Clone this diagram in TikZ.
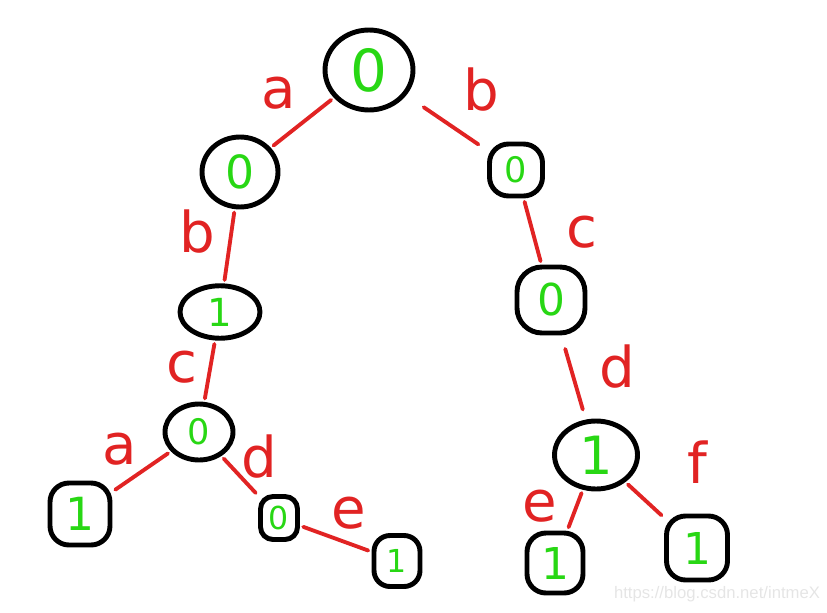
\documentclass[tikz,border=0pt]{standalone}
\usepackage{fontspec}
\setmainfont{DejaVu Sans}
\newfontfamily\wmfont{Liberation Sans}
\usetikzlibrary{shapes.geometric}
\definecolor{trired}{RGB}{225,35,35}
\definecolor{trigreen}{RGB}{40,215,20}
\tikzset{
  oval/.style={ellipse, draw=black, line width=2.8pt, inner sep=0pt, text=trigreen},
  boxy/.style={rectangle, rounded corners=0.38cm, draw=black, line width=2.8pt, inner sep=0pt, text=trigreen},
  edge/.style={draw=trired, line width=2.2pt, line cap=round, shorten <=2pt, shorten >=2pt},
  lbl/.style={text=trired, font=\fontsize{32}{32}\selectfont, inner sep=0pt},
}
\newcommand{\fs}[1]{\fontsize{#1}{#1}\selectfont}
\begin{document}
\begin{tikzpicture}[x=0.02cm,y=-0.02cm]
\useasboundingbox (0,0) rectangle (827,612);
% nodes
\node[oval, minimum width=1.76cm, minimum height=1.6cm, font=\fs{33}] (r) at (369,70) {0};
\node[oval, minimum width=1.52cm, minimum height=1.4cm, font=\fs{26}] (l1) at (240,172) {0};
\node[boxy, minimum width=1.06cm, minimum height=1.04cm, font=\fs{20}] (r1) at (516,170) {0};
\node[oval, minimum width=1.6cm, minimum height=1.05cm, font=\fs{22}] (l2) at (220,312) {1};
\node[boxy, minimum width=1.36cm, minimum height=1.32cm, rounded corners=0.5cm, font=\fs{25}] (r2) at (551,300) {0};
\node[oval, minimum width=1.36cm, minimum height=1.12cm, font=\fs{20}] (l3) at (199,432) {0};
\node[oval, minimum width=1.66cm, minimum height=1.36cm, font=\fs{30}] (r3) at (596,455) {1};
\node[boxy, minimum width=1.2cm, minimum height=1.24cm, font=\fs{26}] (l4a) at (80,514) {1};
\node[boxy, minimum width=0.74cm, minimum height=0.86cm, rounded corners=0.25cm, font=\fs{18}] (l4b) at (279,518) {0};
\node[boxy, minimum width=0.92cm, minimum height=1.02cm, rounded corners=0.32cm, font=\fs{18}] (l5) at (397,561) {1};
\node[boxy, minimum width=1.12cm, minimum height=1.2cm, font=\fs{25}] (r4a) at (555,563) {1};
\node[boxy, minimum width=1.22cm, minimum height=1.28cm, font=\fs{25}] (r4b) at (697,548) {1};
% edges
\draw[edge] (r) -- (l1);
\draw[edge, shorten <=12pt, shorten >=6pt] (r) -- (r1);
\draw[edge] (l1) -- (l2);
\draw[edge] (l2) -- (l3);
\draw[edge] (l3) -- (l4a);
\draw[edge] (l3) -- (l4b);
\draw[edge] (l4b) -- (l5);
\draw[edge] (r1) -- (r2);
\draw[edge, shorten <=8pt, shorten >=6pt] (r2) -- (r3);
\draw[edge] (r3) -- (r4a);
\draw[edge] (r3) -- (r4b);
% labels
\node[lbl] (ta) at (279,93) {a};
\node[lbl] (tb) at (481,90) {b};
\node[lbl] (tb2) at (197,232) {b};
\node[lbl] (tc) at (182,367) {c};
\node[lbl] (ta2) at (120,449) {a};
\node[lbl] (td) at (259,457) {d};
\node[lbl] (te) at (349,513) {e};
\node[lbl] (tc2) at (582,232) {c};
\node[lbl] (td2) at (617,367) {d};
\node[lbl] (te2) at (540,506) {e};
\node[lbl] (tf) at (697,462) {f};
% watermark
\node[text=black!10, font=\wmfont\fontsize{9.5}{10}\selectfont, inner sep=0pt] (wm) at (717,594) {https://blog.csdn.net/intmeX};
\end{tikzpicture}
\end{document}
